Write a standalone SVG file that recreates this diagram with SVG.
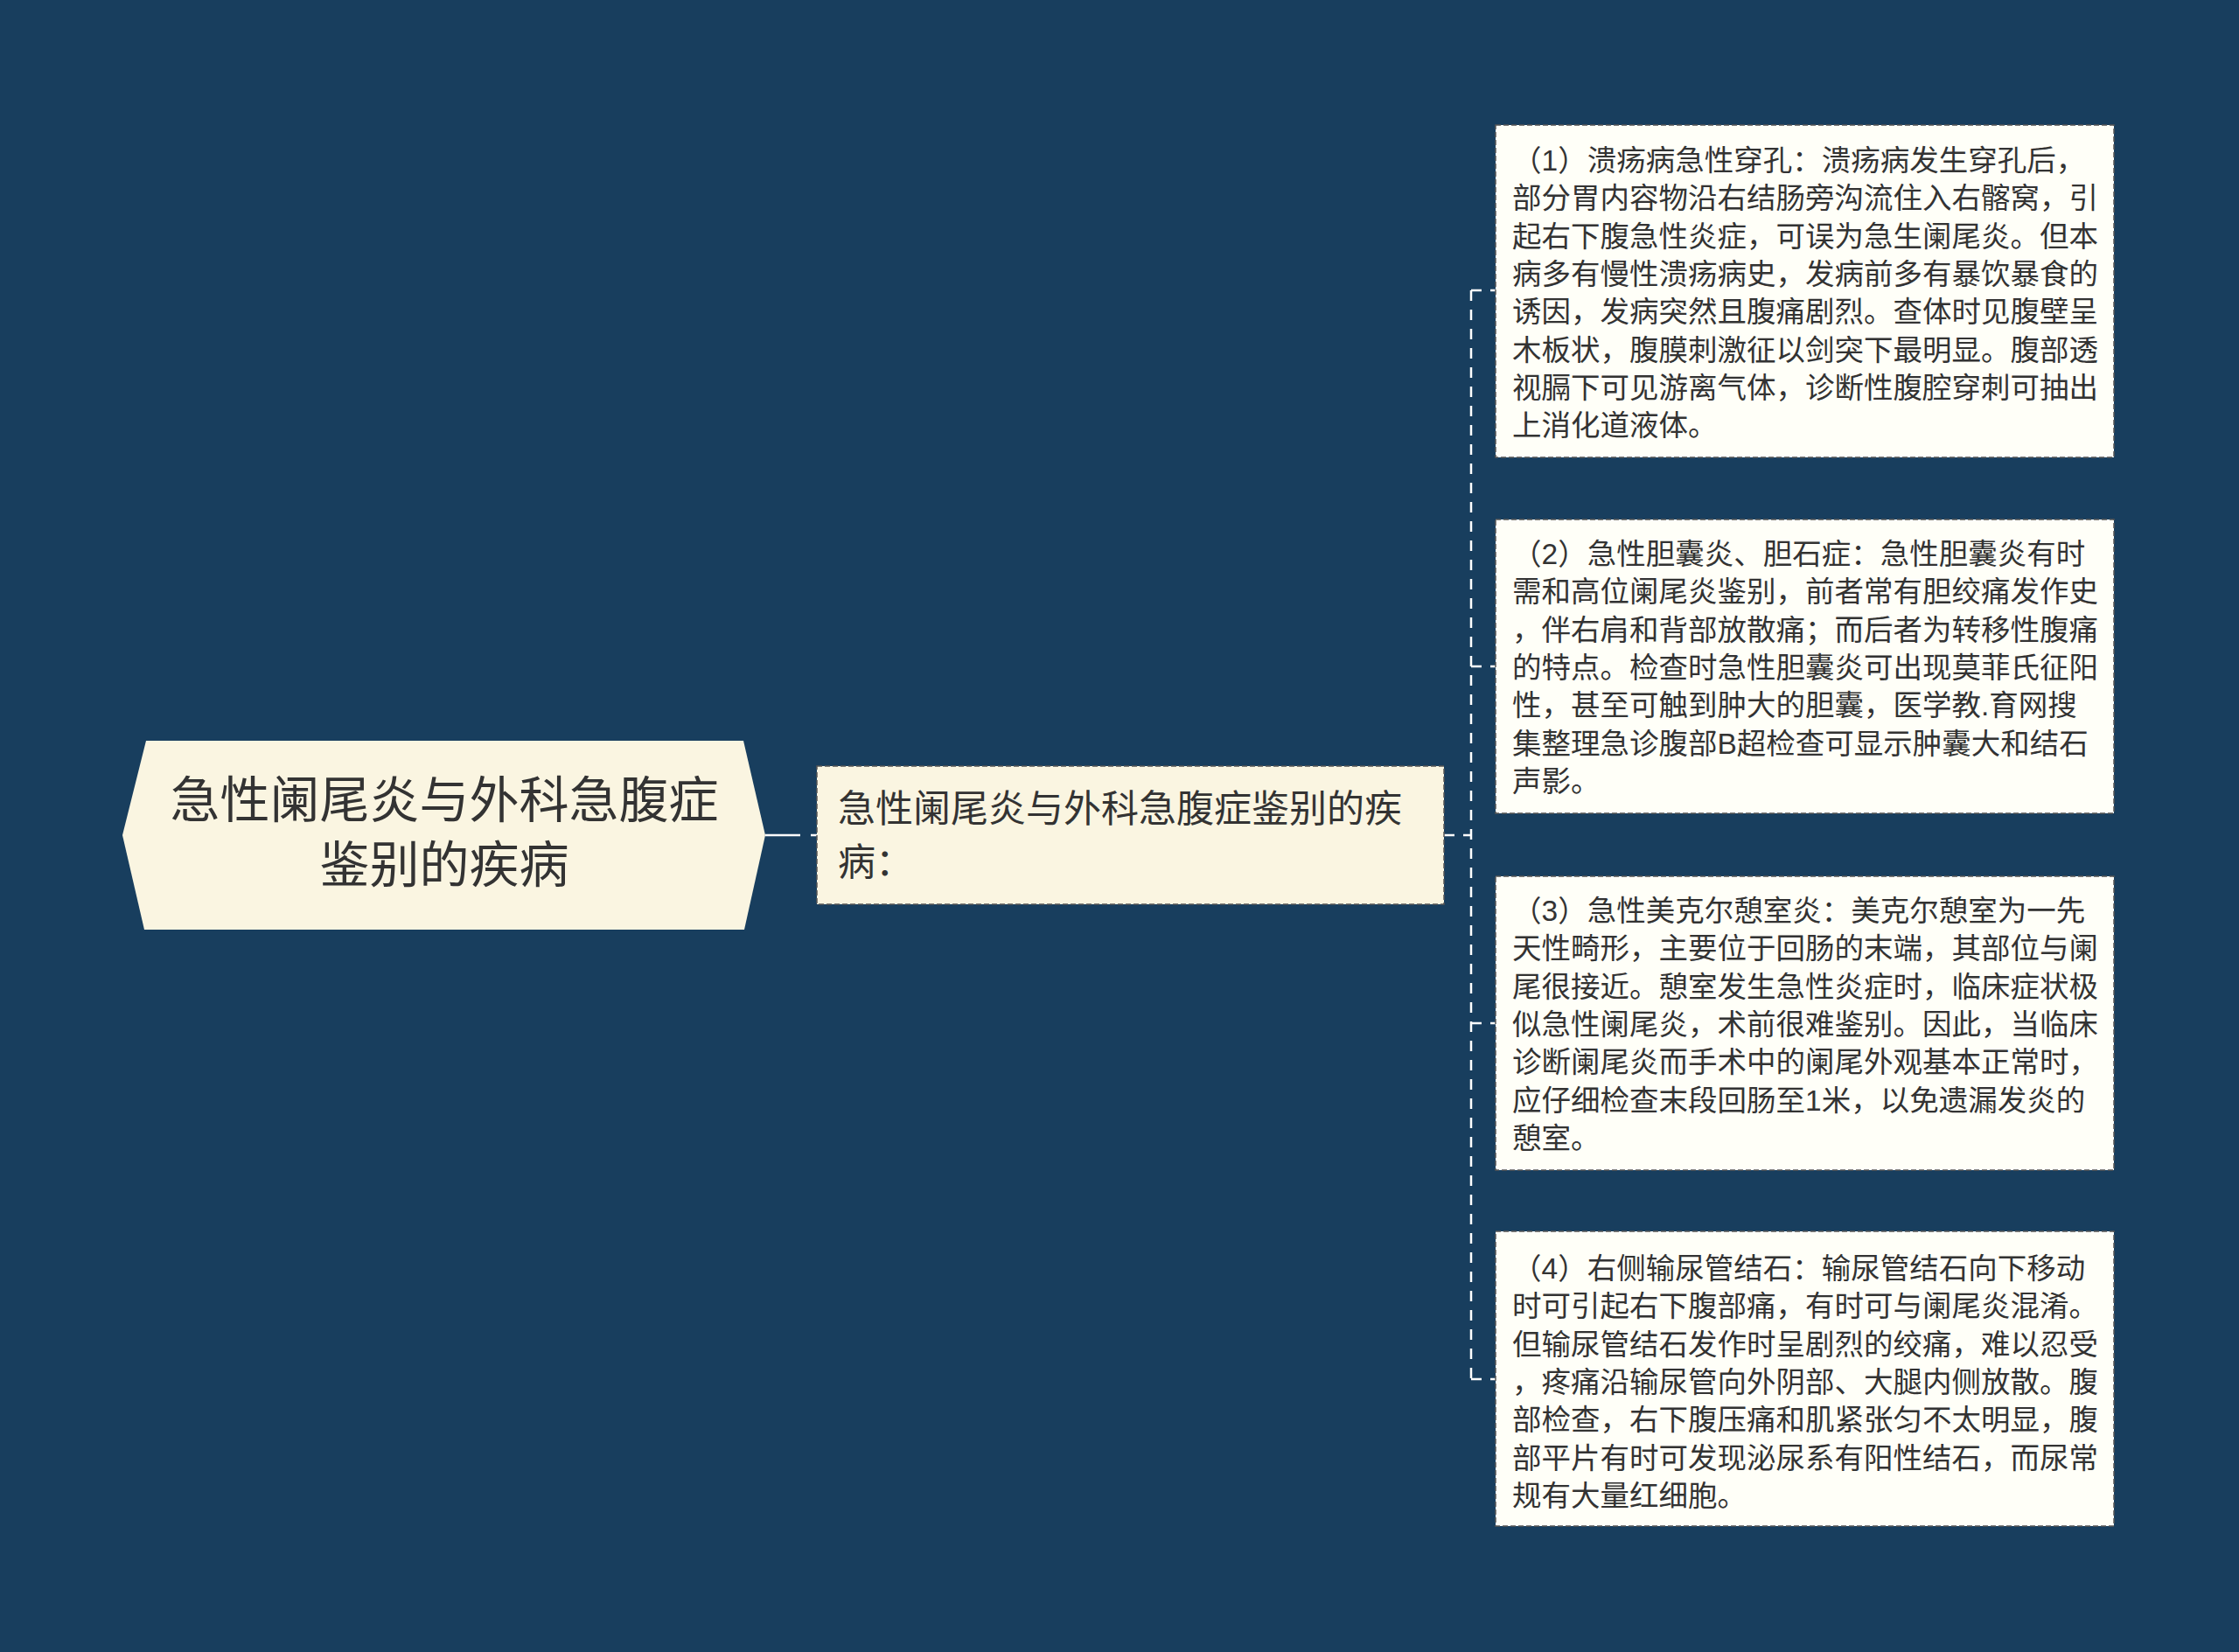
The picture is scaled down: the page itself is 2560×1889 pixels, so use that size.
<svg xmlns="http://www.w3.org/2000/svg" width="2560" height="1889" viewBox="0 0 2560 1889">
<defs>
<style>
.t{font-family:"Liberation Sans","Noto Sans CJK SC",sans-serif;fill:#333333;}
.leaf rect{fill:#FFFFF8;stroke:#555555;stroke-width:1.5;stroke-dasharray:6 3;}
.leaf text{font-size:33.5px;}
.mid rect{fill:#FAF5E1;stroke:#555555;stroke-width:1.5;stroke-dasharray:6 3;}
.conn{fill:none;stroke:#FFFFFF;stroke-width:2.5;stroke-dasharray:12 10;}
</style>
</defs>
<rect x="0" y="0" width="2560" height="1889" fill="#183E5E"/>
<g id="connectors">
<path d="M875 955 H934" fill="none" stroke="#FFFFFF" stroke-width="2.5" stroke-dasharray="40 12 10"/>
<path class="conn" d="M1651 955 H1682"/>
<path class="conn" d="M1682 332 V1577"/>
<path class="conn" d="M1682 332 H1710"/>
<path class="conn" d="M1682 762 H1710"/>
<path class="conn" d="M1682 1170 H1710"/>
<path class="conn" d="M1682 1577 H1710"/>
</g>
<g id="root">
<polygon points="140,955 167,847 850,847 875,955 851,1063 165,1063" fill="#FAF5E1"/>
<text class="t" font-size="57" text-anchor="middle" x="508" y="935"><tspan x="508">急性阑尾炎与外科急腹症</tspan><tspan x="508" dy="74">鉴别的疾病</tspan></text>
</g>
<g id="mid" class="mid">
<rect x="934" y="876" width="717" height="158"/>
<text class="t" font-size="43" x="958" y="940"><tspan x="958">急性阑尾炎与外科急腹症鉴别的疾</tspan><tspan x="958" dy="61">病：</tspan></text>
</g>
<g id="n1" class="leaf">
<rect x="1710" y="143" width="707" height="380"/>
<text class="t" x="1729" y="195"><tspan x="1729">（1）溃疡病急性穿孔：溃疡病发生穿孔后，</tspan><tspan x="1729" dy="43.3">部分胃内容物沿右结肠旁沟流住入右髂窝，引</tspan><tspan x="1729" dy="43.3">起右下腹急性炎症，可误为急生阑尾炎。但本</tspan><tspan x="1729" dy="43.3">病多有慢性溃疡病史，发病前多有暴饮暴食的</tspan><tspan x="1729" dy="43.3">诱因，发病突然且腹痛剧烈。查体时见腹壁呈</tspan><tspan x="1729" dy="43.3">木板状，腹膜刺激征以剑突下最明显。腹部透</tspan><tspan x="1729" dy="43.3">视膈下可见游离气体，诊断性腹腔穿刺可抽出</tspan><tspan x="1729" dy="43.3">上消化道液体。</tspan></text>
</g>
<g id="n2" class="leaf">
<rect x="1710" y="594" width="707" height="336"/>
<text class="t" x="1729" y="645"><tspan x="1729">（2）急性胆囊炎、胆石症：急性胆囊炎有时</tspan><tspan x="1729" dy="43.3">需和高位阑尾炎鉴别，前者常有胆绞痛发作史</tspan><tspan x="1729" dy="43.3">，伴右肩和背部放散痛；而后者为转移性腹痛</tspan><tspan x="1729" dy="43.3">的特点。检查时急性胆囊炎可出现莫菲氏征阳</tspan><tspan x="1729" dy="43.3">性，甚至可触到肿大的胆囊，医学教.育网搜</tspan><tspan x="1729" dy="43.3">集整理急诊腹部B超检查可显示肿囊大和结石</tspan><tspan x="1729" dy="43.3">声影。</tspan></text>
</g>
<g id="n3" class="leaf">
<rect x="1710" y="1002" width="707" height="336"/>
<text class="t" x="1729" y="1053"><tspan x="1729">（3）急性美克尔憩室炎：美克尔憩室为一先</tspan><tspan x="1729" dy="43.3">天性畸形，主要位于回肠的末端，其部位与阑</tspan><tspan x="1729" dy="43.3">尾很接近。憩室发生急性炎症时，临床症状极</tspan><tspan x="1729" dy="43.3">似急性阑尾炎，术前很难鉴别。因此，当临床</tspan><tspan x="1729" dy="43.3">诊断阑尾炎而手术中的阑尾外观基本正常时，</tspan><tspan x="1729" dy="43.3">应仔细检查末段回肠至1米，以免遗漏发炎的</tspan><tspan x="1729" dy="43.3">憩室。</tspan></text>
</g>
<g id="n4" class="leaf">
<rect x="1710" y="1408" width="707" height="337"/>
<text class="t" x="1729" y="1462"><tspan x="1729">（4）右侧输尿管结石：输尿管结石向下移动</tspan><tspan x="1729" dy="43.3">时可引起右下腹部痛，有时可与阑尾炎混淆。</tspan><tspan x="1729" dy="43.3">但输尿管结石发作时呈剧烈的绞痛，难以忍受</tspan><tspan x="1729" dy="43.3">，疼痛沿输尿管向外阴部、大腿内侧放散。腹</tspan><tspan x="1729" dy="43.3">部检查，右下腹压痛和肌紧张匀不太明显，腹</tspan><tspan x="1729" dy="43.3">部平片有时可发现泌尿系有阳性结石，而尿常</tspan><tspan x="1729" dy="43.3">规有大量红细胞。</tspan></text>
</g>
</svg>
